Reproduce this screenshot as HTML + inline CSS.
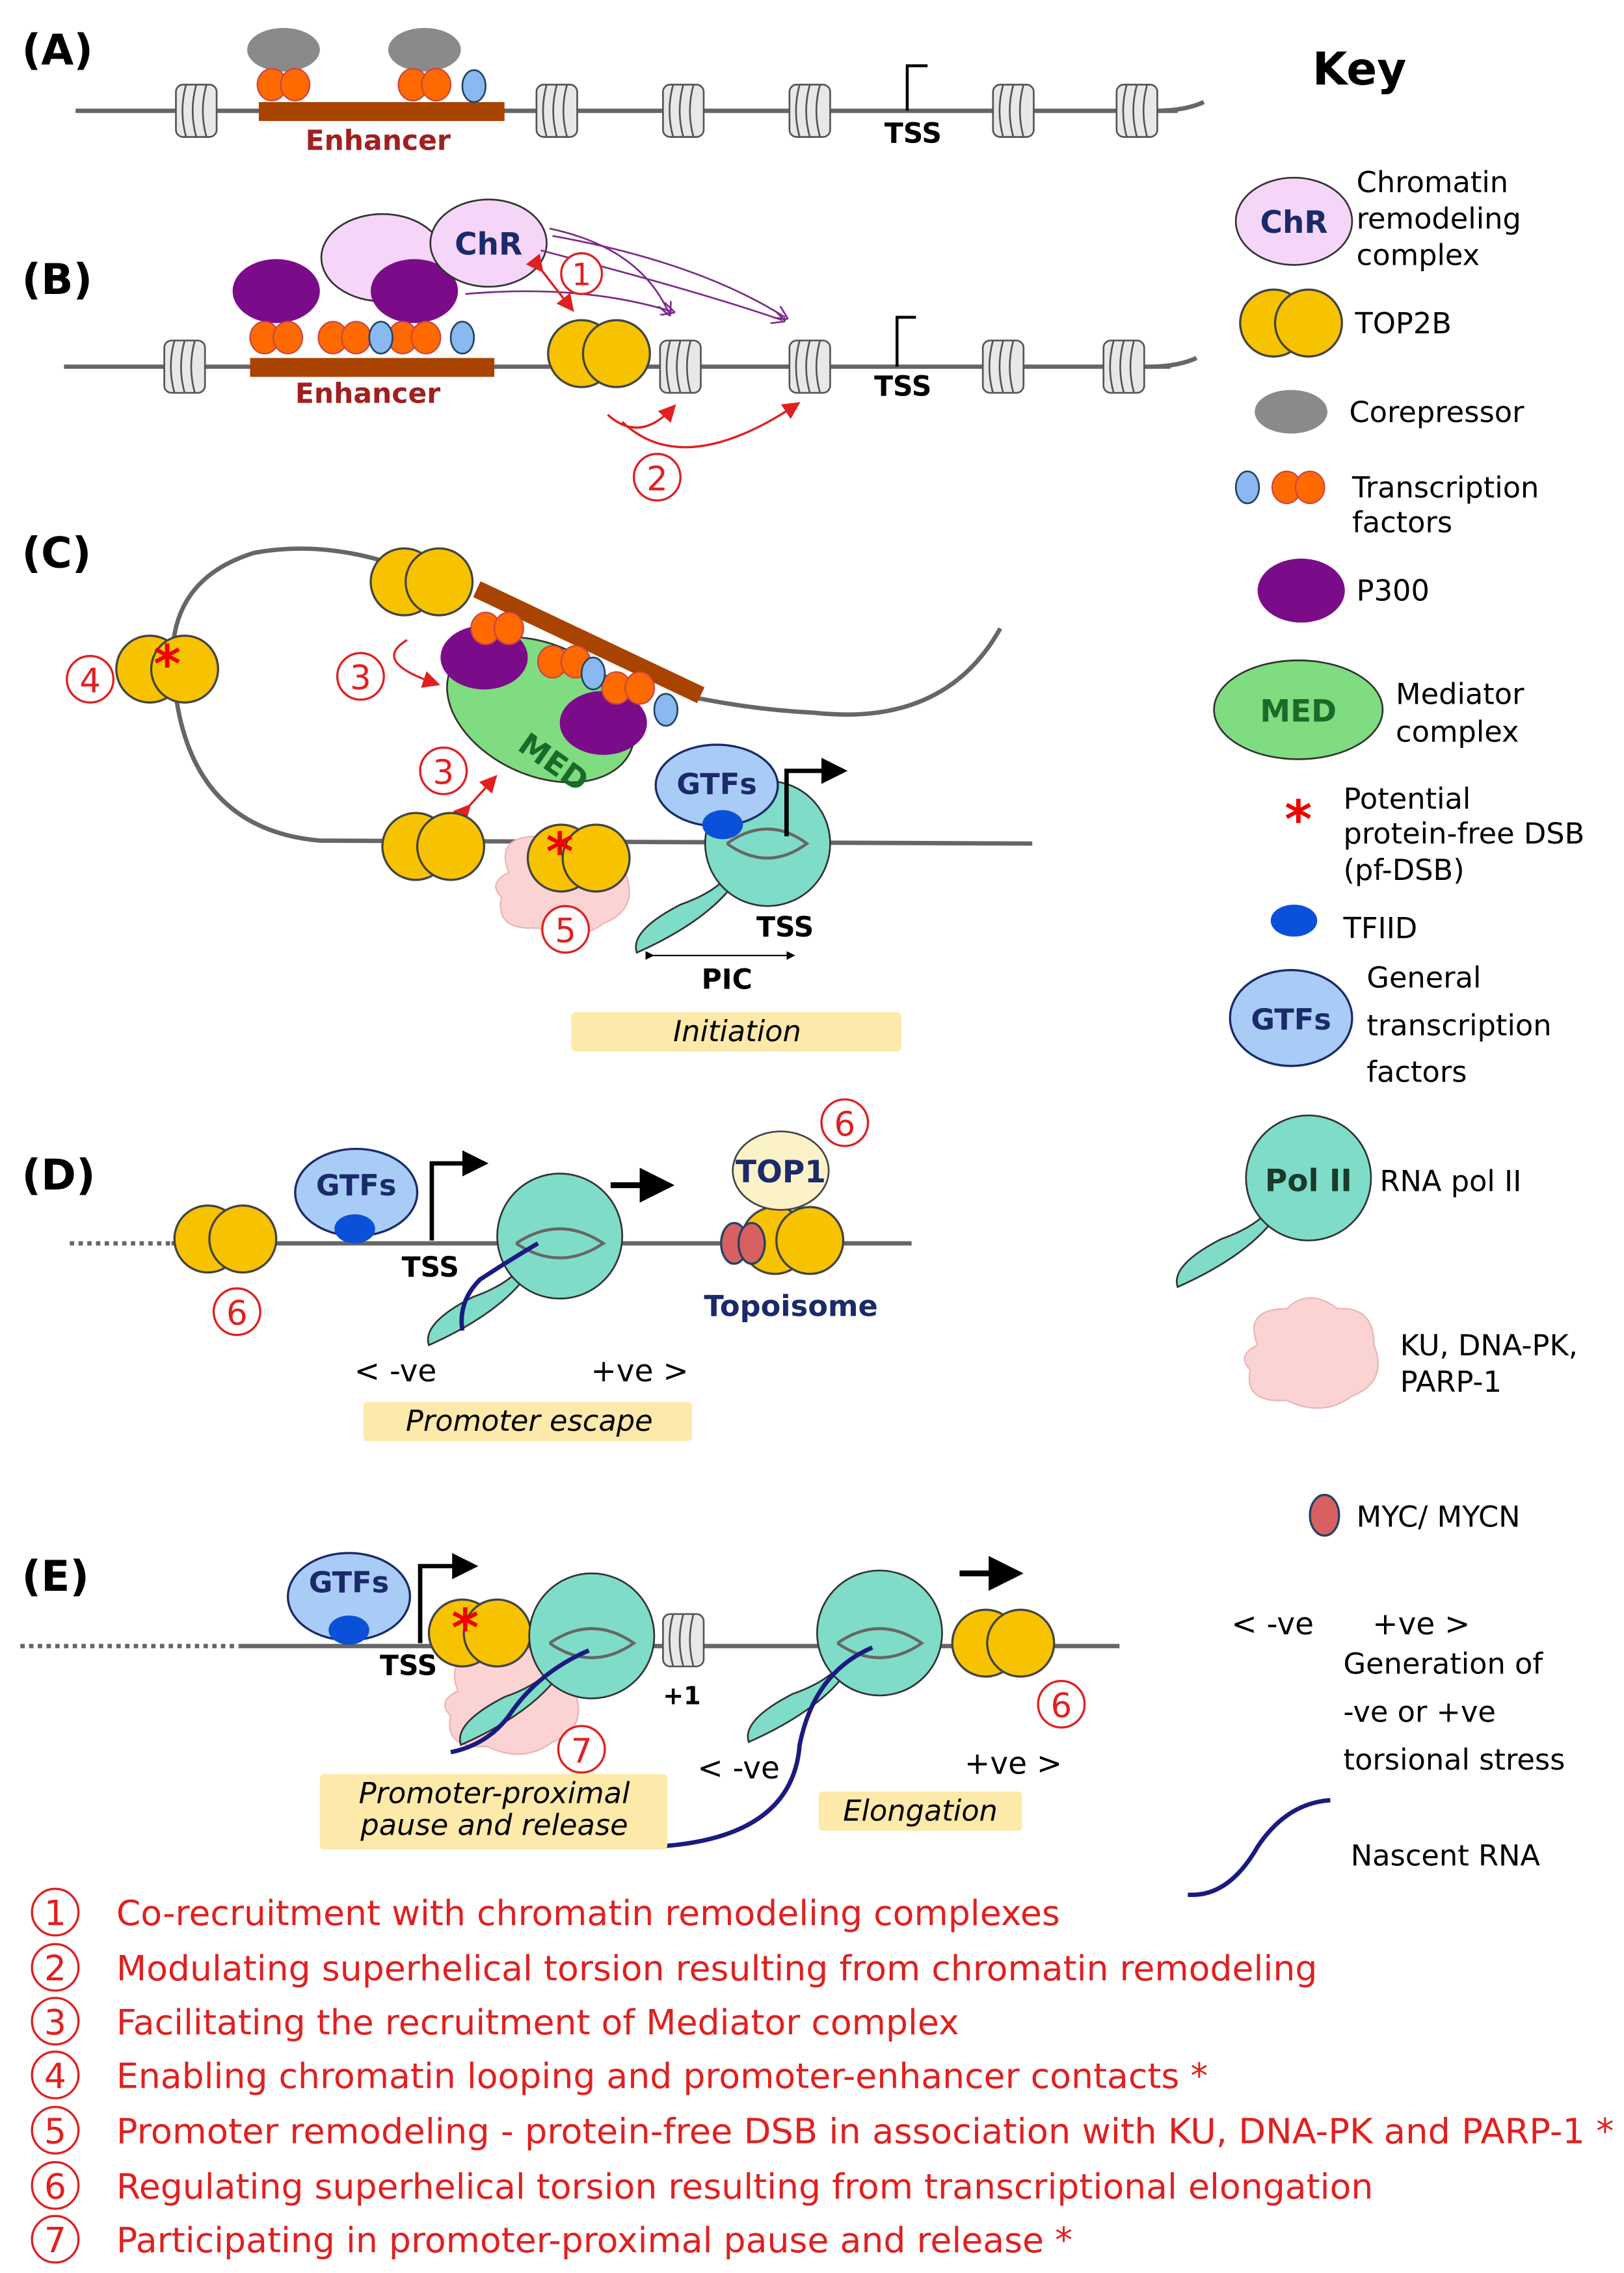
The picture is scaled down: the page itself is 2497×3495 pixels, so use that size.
<!DOCTYPE html>
<html><head><meta charset="utf-8"><style>
html,body{margin:0;padding:0;background:#fff}
svg{display:block}
text{font-family:"DejaVu Sans","Liberation Sans",sans-serif}
</style></head><body>
<svg width="2497" height="3495" viewBox="0 0 1117 1563" xmlns="http://www.w3.org/2000/svg">
<defs>
<g id="nuc"><rect x="-14" y="-18" width="28" height="36" rx="5" fill="#e8e8e8" stroke="#555" stroke-width="1.2"/><path d="M-7,-18 Q-12,0 -7,18 M0,-18 Q-5,0 0,18 M7,-18 Q2,0 7,18" fill="none" stroke="#555" stroke-width="1.2"/></g>
<g id="top"><circle cx="-12" cy="0" r="23" fill="#f7c300" stroke="#444" stroke-width="1.5"/><circle cx="12" cy="0" r="23" fill="#f7c300" stroke="#444" stroke-width="1.5"/></g>
<g id="tf"><ellipse cx="-8" cy="0" rx="10" ry="11" fill="#ff6a00" stroke="#c44" stroke-width="1"/><ellipse cx="8" cy="0" rx="10" ry="11" fill="#ff6a00" stroke="#c44" stroke-width="1"/></g>
<g id="bl"><ellipse cx="0" cy="0" rx="8" ry="11" fill="#8ab8f0" stroke="#246" stroke-width="1.2"/></g>
<g id="p3"><ellipse cx="0" cy="0" rx="30" ry="22" fill="#7a0c8a"/></g>
<g id="pol"><path d="M-25,30 Q-45,55 -90,75 Q-95,60 -60,42 Q-40,35 -30,25 Z" fill="#7fdcc8" stroke="#333" stroke-width="1.2"/><circle cx="0" cy="0" r="43" fill="#7fdcc8" stroke="#333" stroke-width="1.2"/></g>
<g id="cloud"><path d="M-35,-5 Q-45,-30 -15,-30 Q0,-45 20,-30 Q45,-32 45,-5 Q55,20 30,30 Q10,45 -15,33 Q-45,35 -40,12 Q-50,2 -35,-5Z" fill="#fcd3d3" stroke="#e9b5b5" stroke-width="1"/></g>
<g id="star"><text x="0" y="14" font-size="36" fill="#e00" text-anchor="middle" font-weight="bold">*</text></g>
<marker id="ar" markerWidth="8" markerHeight="8" refX="6" refY="4" orient="auto"><path d="M0,0 L8,4 L0,8Z" fill="#e02020"/></marker>
<marker id="ap" markerWidth="8" markerHeight="8" refX="6" refY="4" orient="auto"><path d="M0,0 L8,4 L0,8" fill="none" stroke="#7a2a8a"/></marker>
<marker id="ak" markerWidth="6" markerHeight="6" refX="5" refY="3" orient="auto"><path d="M0,0 L6,3 L0,6Z" fill="#000"/></marker>
</defs>
<g font-size="20" fill="#000">
<!-- A -->
<text x="15" y="44" font-size="29" font-weight="bold">(A)</text>
<line x1="52" y1="76" x2="810" y2="76" stroke="#666" stroke-width="3"/>
<path d="M795,76 Q815,76 828,70" fill="none" stroke="#666" stroke-width="3"/>
<rect x="178" y="70" width="169" height="13" fill="#a84300"/>
<text x="260" y="103" fill="#a02020" font-weight="bold" text-anchor="middle" font-size="19">Enhancer</text>
<ellipse cx="195" cy="34" rx="25" ry="15" fill="#8a8a8a"/><ellipse cx="292" cy="34" rx="25" ry="15" fill="#8a8a8a"/>
<use href="#tf" x="195" y="58"/><use href="#tf" x="292" y="58"/><use href="#bl" x="326" y="59"/>
<use href="#nuc" x="135" y="76"/><use href="#nuc" x="383" y="76"/><use href="#nuc" x="470" y="76"/><use href="#nuc" x="557" y="76"/><use href="#nuc" x="697" y="76"/><use href="#nuc" x="782" y="76"/>
<path d="M624,76 V45 H638" fill="none" stroke="#000" stroke-width="2"/>
<text x="628" y="98" font-weight="bold" text-anchor="middle" font-size="19">TSS</text>
<text x="935" y="58" font-size="31" font-weight="bold" text-anchor="middle">Key</text>
<!-- B -->
<text x="15" y="202" font-size="29" font-weight="bold">(B)</text>
<line x1="44" y1="252" x2="805" y2="252" stroke="#666" stroke-width="3"/>
<path d="M790,252 Q810,252 823,246" fill="none" stroke="#666" stroke-width="3"/>
<ellipse cx="263" cy="177" rx="42" ry="30" fill="#f5d5f8" stroke="#333" stroke-width="1.2"/>
<use href="#p3" x="190" y="200"/><use href="#p3" x="285" y="200"/>
<ellipse cx="336" cy="167" rx="40" ry="30" fill="#f5d5f8" stroke="#333" stroke-width="1.2"/>
<text x="336" y="175" font-weight="bold" fill="#1a2a6a" text-anchor="middle" font-size="21">ChR</text>
<rect x="172" y="246" width="168" height="13" fill="#a84300"/>
<text x="253" y="277" fill="#a02020" font-weight="bold" text-anchor="middle" font-size="19">Enhancer</text>
<use href="#tf" x="190" y="232"/><use href="#tf" x="237" y="232"/><use href="#tf" x="285" y="232"/><use href="#bl" x="262" y="232"/><use href="#bl" x="318" y="232"/>
<use href="#nuc" x="127" y="252"/><use href="#nuc" x="468" y="252"/><use href="#nuc" x="557" y="252"/><use href="#nuc" x="690" y="252"/><use href="#nuc" x="773" y="252"/>
<use href="#top" x="412" y="243"/>
<path d="M617,252 V218 H630" fill="none" stroke="#000" stroke-width="2"/>
<text x="621" y="272" font-weight="bold" text-anchor="middle" font-size="19">TSS</text>
<g fill="none" stroke="#7a2a8a" stroke-width="1.2" marker-end="url(#ap)">
<path d="M378,157 Q440,170 460,215"/><path d="M380,162 Q480,180 540,218"/><path d="M320,202 Q400,195 462,214"/><path d="M372,172 Q480,200 538,220"/></g>
<path d="M372,185 L393,212" stroke="#e02020" stroke-width="1.5" marker-end="url(#ar)" marker-start="url(#ar)"/>
<circle cx="400" cy="188" r="14" fill="#fff" stroke="#e02020" stroke-width="1.5"/><text x="400" y="196" fill="#e02020" text-anchor="middle" font-size="21">1</text>
<path d="M418,285 Q440,305 463,280" fill="none" stroke="#e02020" stroke-width="1.5" marker-end="url(#ar)"/>
<path d="M428,290 Q470,330 548,278" fill="none" stroke="#e02020" stroke-width="1.5" marker-end="url(#ar)"/>
<circle cx="452" cy="328" r="16" fill="#fff" stroke="#e02020" stroke-width="1.5"/><text x="452" y="337" fill="#e02020" text-anchor="middle" font-size="23">2</text>
<!-- C -->
<text x="15" y="390" font-size="29" font-weight="bold">(C)</text>
<path d="M290,395 Q230,370 175,380 Q110,400 120,470 Q130,570 220,578 L710,580" fill="none" stroke="#666" stroke-width="3"/>
<path d="M688,432 Q650,500 560,490 Q520,488 480,480" fill="none" stroke="#666" stroke-width="3"/>
<use href="#top" x="115" y="460"/><use href="#star" x="115" y="455"/>
<circle cx="62" cy="467" r="16" fill="#fff" stroke="#e02020" stroke-width="1.5"/><text x="62" y="476" fill="#e02020" text-anchor="middle" font-size="23">4</text>
<use href="#top" x="290" y="400"/>
<ellipse cx="372" cy="488" rx="68" ry="45" fill="#7fdc80" stroke="#333" stroke-width="1.2" transform="rotate(25 372 488)"/>
<text x="355" y="515" fill="#1a6a2a" font-weight="bold" font-size="21" transform="rotate(35 355 515)">MED</text>
<line x1="328" y1="405" x2="482" y2="478" stroke="#a84300" stroke-width="12"/>
<use href="#p3" x="333" y="452"/><use href="#p3" x="415" y="497"/>
<use href="#tf" x="342" y="432"/><use href="#tf" x="388" y="455"/><use href="#tf" x="432" y="473"/><use href="#bl" x="408" y="463"/><use href="#bl" x="458" y="488"/>
<path d="M280,440 Q255,455 300,470" fill="none" stroke="#e02020" stroke-width="1.5" marker-end="url(#ar)"/>
<circle cx="248" cy="465" r="16" fill="#fff" stroke="#e02020" stroke-width="1.5"/><text x="248" y="474" fill="#e02020" text-anchor="middle" font-size="23">3</text>
<path d="M322,555 L340,535" stroke="#e02020" stroke-width="1.5" marker-end="url(#ar)" marker-start="url(#ar)"/>
<circle cx="305" cy="530" r="16" fill="#fff" stroke="#e02020" stroke-width="1.5"/><text x="305" y="539" fill="#e02020" text-anchor="middle" font-size="23">3</text>
<use href="#cloud" x="385" y="605"/>
<use href="#top" x="298" y="582"/>
<use href="#top" x="398" y="590"/><use href="#star" x="385" y="584"/>
<circle cx="389" cy="639" r="16" fill="#fff" stroke="#e02020" stroke-width="1.5"/><text x="389" y="648" fill="#e02020" text-anchor="middle" font-size="23">5</text>
<use href="#pol" x="528" y="580"/>
<path d="M500,580 Q528,560 555,580 Q528,600 500,580" fill="none" stroke="#666" stroke-width="2"/>
<ellipse cx="493" cy="540" rx="42" ry="28" fill="#a8ccf5" stroke="#1a2a6a" stroke-width="1.5"/>
<text x="493" y="546" font-weight="bold" fill="#1a2a6a" text-anchor="middle" font-size="20">GTFs</text>
<ellipse cx="497" cy="567" rx="14" ry="10" fill="#0a50d8"/>
<path d="M541,575 V530 H580" fill="none" stroke="#000" stroke-width="3" marker-end="url(#ak)"/>
<text x="540" y="644" font-weight="bold" text-anchor="middle" font-size="19">TSS</text>
<line x1="449" y1="657" x2="546" y2="657" stroke="#000" stroke-width="1" marker-end="url(#ak)" marker-start="url(#ak)"/>
<text x="500" y="680" font-weight="bold" text-anchor="middle" font-size="19">PIC</text>
<rect x="393" y="696" width="227" height="27" rx="3" fill="#fde9a9"/>
<text x="507" y="716" font-style="italic" text-anchor="middle" font-size="20">Initiation</text>
<!-- D -->
<text x="15" y="818" font-size="29" font-weight="bold">(D)</text>
<line x1="48" y1="855" x2="118" y2="855" stroke="#666" stroke-width="3" stroke-dasharray="3,3"/>
<line x1="118" y1="855" x2="627" y2="855" stroke="#666" stroke-width="3"/>
<use href="#top" x="155" y="852"/>
<circle cx="163" cy="902" r="16" fill="#fff" stroke="#e02020" stroke-width="1.5"/><text x="163" y="911" fill="#e02020" text-anchor="middle" font-size="23">6</text>
<ellipse cx="245" cy="820" rx="42" ry="30" fill="#a8ccf5" stroke="#1a2a6a" stroke-width="1.5"/>
<text x="245" y="822" font-weight="bold" fill="#1a2a6a" text-anchor="middle" font-size="20">GTFs</text>
<ellipse cx="244" cy="845" rx="14" ry="10" fill="#0a50d8"/>
<path d="M297,853 V800 H333" fill="none" stroke="#000" stroke-width="3" marker-end="url(#ak)"/>
<text x="296" y="878" font-weight="bold" text-anchor="middle" font-size="19">TSS</text>
<use href="#pol" x="385" y="850"/>
<path d="M355,855 Q385,835 415,855 Q385,875 355,855" fill="none" stroke="#666" stroke-width="2"/>
<path d="M370,855 Q345,870 330,880 Q315,895 318,915" fill="none" stroke="#1a1a80" stroke-width="3"/>
<line x1="420" y1="815" x2="460" y2="815" stroke="#000" stroke-width="4" marker-end="url(#ak)"/>
<use href="#top" x="545" y="853"/>
<ellipse cx="537" cy="805" rx="33" ry="27" fill="#fcf2c8" stroke="#444" stroke-width="1.2"/>
<text x="537" y="813" font-weight="bold" fill="#1a2a6a" text-anchor="middle" font-size="21">TOP1</text>
<ellipse cx="505" cy="855" rx="9" ry="14" fill="#d86060" stroke="#246" stroke-width="1.5"/><ellipse cx="517" cy="855" rx="9" ry="14" fill="#d86060" stroke="#246" stroke-width="1.5"/>
<text x="544" y="905" font-weight="bold" fill="#1a2a6a" text-anchor="middle" font-size="20">Topoisome</text>
<circle cx="581" cy="772" r="16" fill="#fff" stroke="#e02020" stroke-width="1.5"/><text x="581" y="781" fill="#e02020" text-anchor="middle" font-size="23">6</text>
<text x="272" y="950" text-anchor="middle" font-size="21">&lt; -ve</text>
<text x="440" y="950" text-anchor="middle" font-size="21">+ve &gt;</text>
<rect x="250" y="964" width="226" height="27" rx="3" fill="#fde9a9"/>
<text x="364" y="984" font-style="italic" text-anchor="middle" font-size="20">Promoter escape</text>
<!-- E -->
<text x="15" y="1094" font-size="29" font-weight="bold">(E)</text>
<line x1="14" y1="1132" x2="165" y2="1132" stroke="#666" stroke-width="3" stroke-dasharray="3,3"/>
<line x1="165" y1="1132" x2="770" y2="1132" stroke="#666" stroke-width="3"/>
<ellipse cx="240" cy="1098" rx="42" ry="30" fill="#a8ccf5" stroke="#1a2a6a" stroke-width="1.5"/>
<text x="240" y="1095" font-weight="bold" fill="#1a2a6a" text-anchor="middle" font-size="20">GTFs</text>
<ellipse cx="240" cy="1121" rx="14" ry="10" fill="#0a50d8"/>
<use href="#cloud" x="350" y="1168"/>
<path d="M289,1130 V1077 H326" fill="none" stroke="#000" stroke-width="3" marker-end="url(#ak)"/>
<text x="281" y="1152" font-weight="bold" text-anchor="middle" font-size="19">TSS</text>
<use href="#top" x="330" y="1123"/><use href="#star" x="320" y="1118"/>
<use href="#pol" x="407" y="1125"/>
<path d="M378,1130 Q407,1110 436,1130 Q407,1150 378,1130" fill="none" stroke="#666" stroke-width="2"/>
<path d="M405,1135 Q370,1150 350,1180 Q335,1200 310,1205" fill="none" stroke="#1a1a80" stroke-width="3"/>
<circle cx="400" cy="1203" r="16" fill="#fff" stroke="#e02020" stroke-width="1.5"/><text x="400" y="1212" fill="#e02020" text-anchor="middle" font-size="23">7</text>
<use href="#nuc" x="470" y="1128"/>
<text x="469" y="1172" font-weight="bold" text-anchor="middle" font-size="17">+1</text>
<use href="#pol" x="605" y="1123"/>
<path d="M576,1130 Q605,1110 634,1130 Q605,1150 576,1130" fill="none" stroke="#666" stroke-width="2"/>
<path d="M600,1133 Q560,1150 550,1200 Q545,1265 450,1270" fill="none" stroke="#1a1a80" stroke-width="3"/>
<use href="#top" x="690" y="1130"/>
<line x1="660" y1="1082" x2="700" y2="1082" stroke="#000" stroke-width="4" marker-end="url(#ak)"/>
<circle cx="730" cy="1172" r="16" fill="#fff" stroke="#e02020" stroke-width="1.5"/><text x="730" y="1181" fill="#e02020" text-anchor="middle" font-size="23">6</text>
<text x="508" y="1223" text-anchor="middle" font-size="21">&lt; -ve</text>
<text x="697" y="1220" text-anchor="middle" font-size="21">+ve &gt;</text>
<rect x="220" y="1220" width="239" height="52" rx="3" fill="#fde9a9"/>
<text x="340" y="1240" font-style="italic" text-anchor="middle" font-size="20">Promoter-proximal</text>
<text x="340" y="1262" font-style="italic" text-anchor="middle" font-size="20">pause and release</text>
<rect x="563" y="1232" width="140" height="27" rx="3" fill="#fde9a9"/>
<text x="633" y="1252" font-style="italic" text-anchor="middle" font-size="20">Elongation</text>
<!-- Key -->
<ellipse cx="890" cy="152" rx="40" ry="30" fill="#f5d5f8" stroke="#333" stroke-width="1.2"/>
<text x="890" y="160" font-weight="bold" fill="#1a2a6a" text-anchor="middle" font-size="21">ChR</text>
<text x="933" y="132">Chromatin</text><text x="933" y="157">remodeling</text><text x="933" y="182">complex</text>
<use href="#top" x="888" y="222"/><text x="932" y="229">TOP2B</text>
<ellipse cx="888" cy="283" rx="25" ry="15" fill="#8a8a8a"/><text x="928" y="290">Corepressor</text>
<use href="#bl" x="858" y="335"/><use href="#tf" x="893" y="335"/>
<text x="930" y="342">Transcription</text><text x="930" y="366">factors</text>
<use href="#p3" x="895" y="406"/><text x="933" y="413">P300</text>
<ellipse cx="893" cy="488" rx="58" ry="34" fill="#7fdc80" stroke="#333" stroke-width="1.2"/>
<text x="893" y="496" font-weight="bold" fill="#1a6a2a" text-anchor="middle" font-size="21">MED</text>
<text x="960" y="484">Mediator</text><text x="960" y="510">complex</text>
<use href="#star" x="893" y="562"/>
<text x="924" y="556">Potential</text><text x="924" y="580">protein-free DSB</text><text x="924" y="605">(pf-DSB)</text>
<ellipse cx="890" cy="633" rx="16" ry="11" fill="#0a50d8"/><text x="924" y="645">TFIID</text>
<ellipse cx="888" cy="700" rx="42" ry="33" fill="#a8ccf5" stroke="#1a2a6a" stroke-width="1.5"/>
<text x="888" y="708" font-weight="bold" fill="#1a2a6a" text-anchor="middle" font-size="20">GTFs</text>
<text x="940" y="679">General</text><text x="940" y="712">transcription</text><text x="940" y="744">factors</text>
<use href="#pol" x="900" y="810"/>
<text x="900" y="819" font-weight="bold" fill="#1a3a2a" text-anchor="middle" font-size="21">Pol II</text>
<text x="949" y="819">RNA pol II</text>
<use href="#cloud" x="900" y="930"/>
<text x="963" y="932">KU, DNA-PK,</text><text x="963" y="957">PARP-1</text>
<ellipse cx="911" cy="1042" rx="10" ry="14" fill="#d86060" stroke="#246" stroke-width="1.5"/>
<text x="933" y="1050">MYC/ MYCN</text>
<text x="847" y="1124" font-size="21">&lt; -ve</text><text x="944" y="1124" font-size="21">+ve &gt;</text>
<text x="924" y="1151">Generation of</text><text x="924" y="1184">-ve or +ve</text><text x="924" y="1217">torsional stress</text>
<path d="M817,1303 Q845,1305 865,1270 Q885,1240 915,1238" fill="none" stroke="#1a1a80" stroke-width="3"/>
<text x="929" y="1283">Nascent RNA</text>
</g>
<!-- Bottom legend -->
<g fill="#e02020" font-size="24">
<g fill="none" stroke="#e02020" stroke-width="1.5">
<circle cx="38" cy="1315" r="16"/><circle cx="38" cy="1353" r="16"/><circle cx="38" cy="1390" r="16"/><circle cx="38" cy="1427" r="16"/><circle cx="38" cy="1465" r="16"/><circle cx="38" cy="1503" r="16"/><circle cx="38" cy="1540" r="16"/></g>
<g text-anchor="middle"><text x="38" y="1324">1</text><text x="38" y="1362">2</text><text x="38" y="1399">3</text><text x="38" y="1436">4</text><text x="38" y="1474">5</text><text x="38" y="1512">6</text><text x="38" y="1549">7</text></g>
<text x="80" y="1324">Co-recruitment with chromatin remodeling complexes</text>
<text x="80" y="1362">Modulating superhelical torsion resulting from chromatin remodeling</text>
<text x="80" y="1399">Facilitating the recruitment of Mediator complex</text>
<text x="80" y="1436">Enabling chromatin looping and promoter-enhancer contacts  *</text>
<text x="80" y="1474" textLength="1030" lengthAdjust="spacingAndGlyphs">Promoter remodeling - protein-free DSB in association with KU, DNA-PK and PARP-1 *</text>
<text x="80" y="1512">Regulating superhelical torsion resulting from transcriptional elongation</text>
<text x="80" y="1549">Participating in promoter-proximal pause and release *</text>
</g>
</svg>
</body></html>
